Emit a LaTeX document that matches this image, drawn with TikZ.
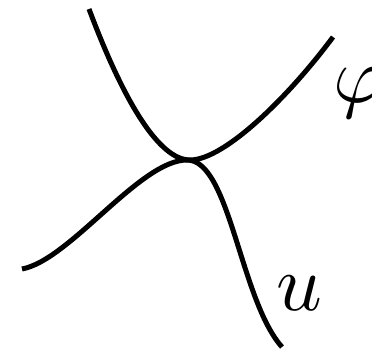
\documentclass[tikz,border=0pt]{standalone}
\begin{document}
\begin{tikzpicture}[x=1pt,y=-1pt,
  curve/.style={line width=5pt,line cap=butt},
  lbl/.style={inner sep=0pt,anchor=base west,scale=8}]
\useasboundingbox (0,0) rectangle (372,352);
\draw[curve] (89,9) .. controls (125,105) and (160,160) .. (190,160)
  .. controls (225,160) and (290,95) .. (333,37);
\draw[curve] (22,269) .. controls (70,260) and (140,160) .. (187,160)
  .. controls (230,160) and (240,300) .. (282,347);
\node[lbl] (phi) at (332,103) {$\varphi$};
\node[lbl] (u) at (275,311) {$u$};
\end{tikzpicture}
\end{document}
